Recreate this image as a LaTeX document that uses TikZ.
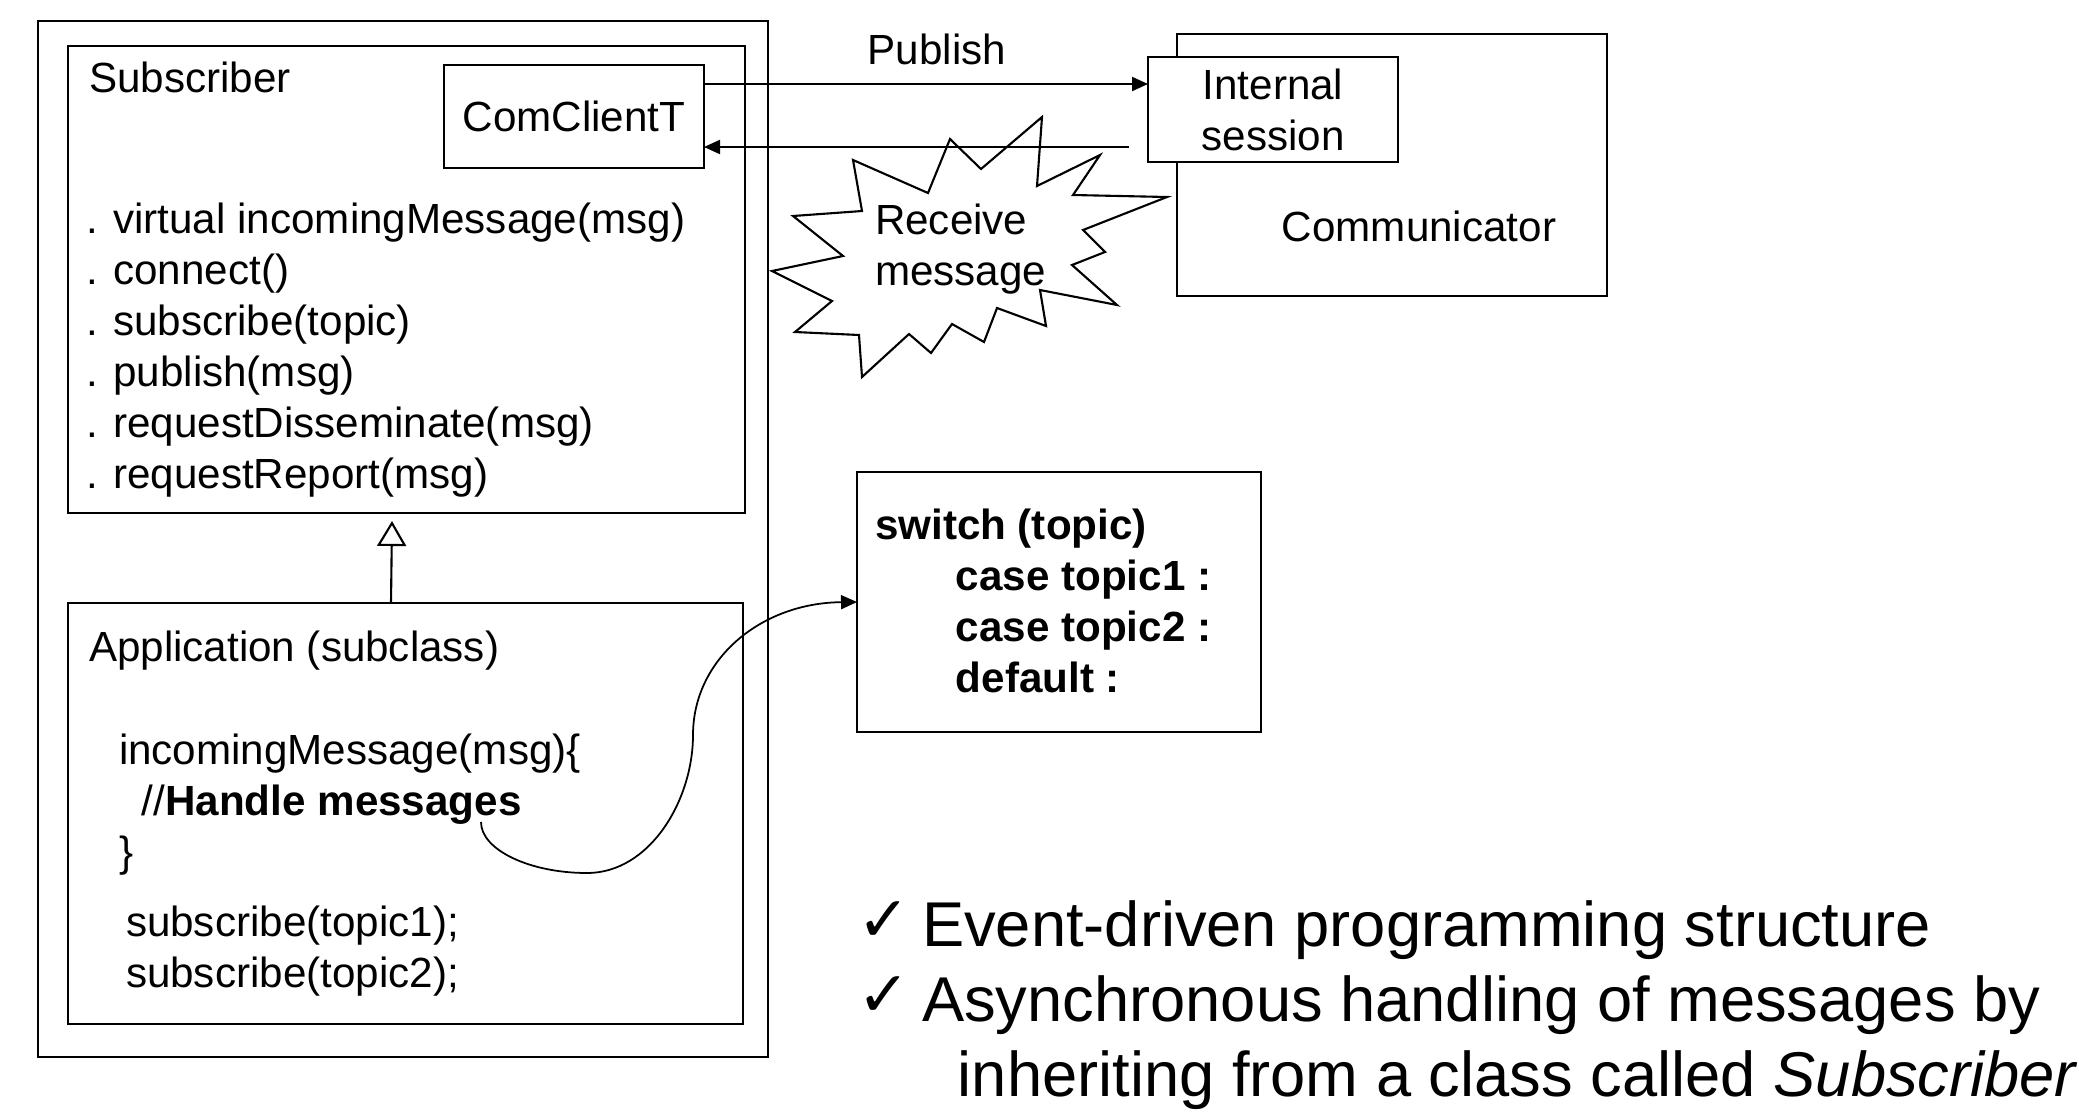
\documentclass[tikz,border=0pt]{standalone}
\usepackage{fontspec}
\usepackage{graphicx}
\setmainfont{Liberation Sans}
\newfontfamily\ckfont{DejaVu Sans}
\usetikzlibrary{arrows.meta,positioning}
\newcommand{\chk}{\makebox[18.5pt][l]{\raisebox{1.5pt}{\ckfont ✓}}}

\begin{document}
\begin{tikzpicture}[
  font=\fontsize{12}{14.5}\selectfont,
  box/.style={draw, line width=.6pt, inner sep=0pt, outer sep=0pt},
  txt/.style={inner sep=0pt, outer sep=0pt, align=left},
  ar/.style={-{Triangle[length=1.6mm, width=1.4mm]}, line width=.6pt},
  inh/.style={-{Triangle[open, length=2.5mm, width=2.9mm, fill=white]}, line width=.6pt},
]
\useasboundingbox (0,0) rectangle (20.79,-11.11);

% classes
\node[box, minimum width=7.30cm, minimum height=10.36cm, anchor=north west] (outer) at (0.38,-0.21) {};
\node[box, minimum width=6.77cm, minimum height=4.67cm, anchor=north west] (sub) at (0.68,-0.46) {};
\node[box, minimum width=2.60cm, minimum height=1.03cm, anchor=north west] (ccl) at (4.44,-0.65) {ComClientT};
\node[box, minimum width=6.75cm, minimum height=4.21cm, anchor=north west] (app) at (0.68,-6.03) {};

\node[txt, anchor=base west] (subt) at (0.89,-0.92) {Subscriber};
\node[txt, anchor=north west] (ops) at (0.86,-1.982) {\strut. virtual incomingMessage(msg)\\
  . connect()\\ . subscribe(topic)\\ . publish(msg)\\
  . requestDisseminate(msg)\\ . requestReport(msg)};

\node[txt, anchor=base west] (appt) at (0.89,-6.61) {Application (subclass)};
\node[txt, anchor=north west] (code) at (1.19,-7.292) {\strut incomingMessage(msg)\{\\
  \hspace*{6.5pt}//\textbf{Handle messages}\\ \}};
\node[txt, anchor=north west] (subs) at (1.26,-9.012) {\strut subscribe(topic1);\\ subscribe(topic2);};

% communicator
\node[box, minimum width=4.30cm, minimum height=2.62cm, anchor=north west] (com) at (11.77,-0.34) {};
\node[box, fill=white, minimum width=2.50cm, minimum height=1.05cm, anchor=north west, align=center] (ses) at (11.48,-0.57) {Internal\\ session};
\node[txt] (comt) at (14.19,-2.26) {Communicator};

% receive burst
\draw[line width=.6pt, fill=white] (10.42,-1.17) -- (10.37,-1.86) -- (11.00,-1.55) -- (10.73,-1.95)
  -- (11.67,-1.97) -- (10.83,-2.30) -- (11.05,-2.52) -- (10.72,-2.65) -- (11.17,-3.05)
  -- (10.40,-2.90) -- (10.46,-3.26) -- (9.97,-3.08) -- (9.84,-3.42) -- (9.52,-3.24)
  -- (9.31,-3.53) -- (9.09,-3.34) -- (8.62,-3.77) -- (8.59,-3.35) -- (7.95,-3.32)
  -- (8.32,-3.01) -- (7.72,-2.71) -- (8.43,-2.56) -- (7.93,-2.16) -- (8.62,-2.11)
  -- (8.53,-1.60) -- (9.28,-1.93) -- (9.50,-1.39) -- (9.81,-1.69) -- cycle;
\node[txt, anchor=north west] (rcv) at (8.75,-1.992) {\strut Receive\\ message};

\node[txt] (pub) at (9.37,-0.49) {Publish};

% switch
\node[box, minimum width=4.04cm, minimum height=2.60cm, anchor=north west] (sw) at (8.57,-4.72) {};
\node[txt, anchor=north west, font=\fontsize{12}{14.5}\selectfont\bfseries] (swt) at (8.75,-5.042) {\strut switch (topic)\\
  \hspace*{23pt}case topic1 :\\ \hspace*{23pt}case topic2 :\\ \hspace*{23pt}default :};

% notes
\node[txt, anchor=north west, font=\fontsize{18}{21.3}\selectfont] (notes) at (8.57,-8.944) {\strut\chk Event-driven programming structure\\
  \chk Asynchronous handling of messages by\\
  \hspace*{28.7pt}inheriting from a class called \textit{Subscriber}};

% connectors
\coordinate (pa) at ([yshift=3.25mm]ccl.east);
\coordinate (ra) at ([yshift=-3.05mm]ccl.east);
\coordinate (hm) at (4.81,-8.22);
\draw[ar] (pa) -- (pa -| ses.west);
\draw[ar] ([xshift=-1.9mm]ra -| ses.west) -- (ra);
\draw[inh] ([xshift=-1.45mm]app.north) -- ([xshift=-1.45mm, yshift=-0.8mm]sub.south);
\draw[ar, line width=.5pt] (hm) .. controls (4.81,-8.50) and (5.30,-8.73) .. (5.87,-8.73)
  .. controls (6.50,-8.73) and (6.93,-8.00) .. (6.93,-7.35)
  .. controls (6.93,-6.60) and (7.60,-6.03) .. (sw.west);
\end{tikzpicture}
\end{document}
